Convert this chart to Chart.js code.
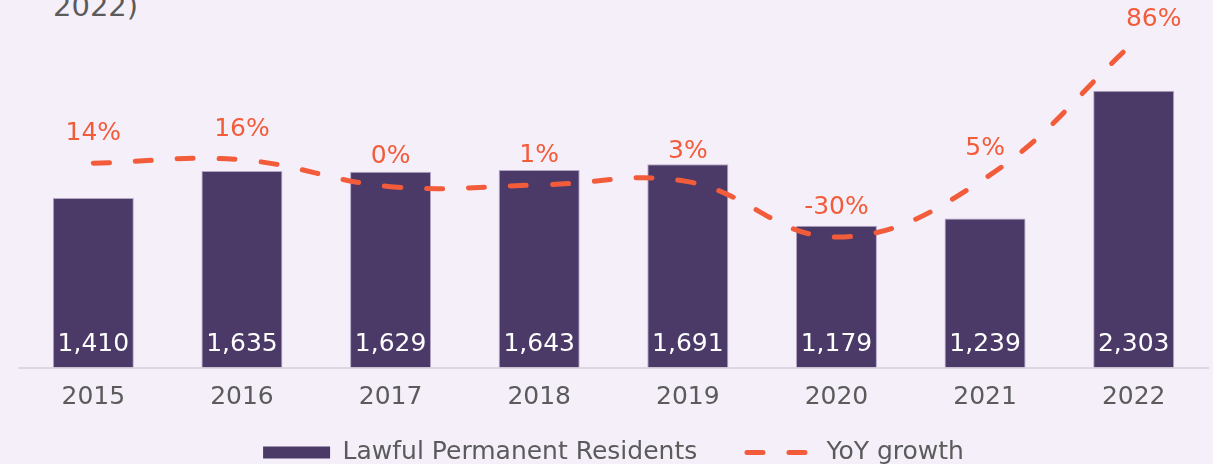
<!DOCTYPE html>
<html>
<head>
<meta charset="utf-8">
<script src="https://cdn.jsdelivr.net/npm/chart.js@4.4.0/dist/chart.umd.min.js"></script>
<style>
  html, body { margin: 0; padding: 0; background: #f5effa; }
  #wrap { position: relative; width: 1213px; height: 464px; overflow: hidden; }
  #titulo { position: absolute; left: 53px; top: -11px; font: 29px 'DejaVu Sans'; line-height: 34px; color: #5b5b5b; white-space: nowrap; }
  #grafico { position: absolute; left: 0; top: 0; }
</style>
</head>
<body>
<div id="wrap">
  <div id="titulo">2022)</div>
  <canvas id="grafico" width="1213" height="464"></canvas>
</div>
<script>
const anos = ['2015', '2016', '2017', '2018', '2019', '2020', '2021', '2022'];
const residentes = [1410, 1635, 1629, 1643, 1691, 1179, 1239, 2303];
const crescimento = [14, 16, 0, 1, 3, -30, 5, 86];

const corBarra = '#4b3a68';
const corLinha = '#f25c3b';
const corTexto = '#5b5b5b';
const fonte = "'DejaVu Sans'";

// rótulos dentro das barras e acima da linha
const rotulos = {
  id: 'rotulos',
  afterDatasetsDraw(chart) {
    const ctx = chart.ctx;
    ctx.save();
    ctx.font = `25px ${fonte}`;
    ctx.textAlign = 'center';
    ctx.textBaseline = 'middle';

    const barras = chart.getDatasetMeta(0).data;
    const base = chart.scales.y.getPixelForValue(0);
    ctx.fillStyle = '#ffffff';
    barras.forEach((bar, i) => {
      ctx.fillText(residentes[i].toLocaleString('en-US'), bar.x, base - 23);
    });

    const pontos = chart.getDatasetMeta(1).data;
    ctx.fillStyle = corLinha;
    pontos.forEach((p, i) => {
      const ultimo = i === pontos.length - 1;
      ctx.fillText(crescimento[i] + '%', p.x + (ultimo ? 20 : 0), p.y - (ultimo ? 23 : 30));
    });
    ctx.restore();
  }
};

const ctx = document.getElementById('grafico').getContext('2d');
new Chart(ctx, {
  type: 'bar',
  data: {
    labels: anos,
    datasets: [{
      type: 'bar',
      label: 'Lawful Permanent Residents     ',
      data: residentes,
      backgroundColor: corBarra,
      borderColor: '#b4a6c8',
      borderWidth: { top: 1, left: 1, right: 1, bottom: 0 },
      barPercentage: 0.545,
      categoryPercentage: 1,
      yAxisID: 'y',
      order: 2
    }, {
      type: 'line',
      label: 'YoY growth',
      data: crescimento,
      borderColor: corLinha,
      backgroundColor: corLinha,
      borderWidth: 5,
      borderDash: [16, 26],
      borderCapStyle: 'round',
      tension: 0.4,
      pointRadius: 0,
      fill: false,
      yAxisID: 'y2',
      order: 1
    }]
  },
  options: {
    responsive: false,
    animation: false,
    layout: {
      padding: { left: 19, right: 5, top: 0, bottom: -11 }
    },
    plugins: {
      tooltip: { enabled: false },
      legend: {
        position: 'bottom',
        labels: {
          usePointStyle: true,
          pointStyleWidth: 67,
          boxHeight: 12,
          padding: 10,
          color: corTexto,
          font: { family: fonte, size: 25 },
          generateLabels(chart) {
            const itens = Chart.defaults.plugins.legend.labels.generateLabels(chart);
            itens.sort((a, b) => a.datasetIndex - b.datasetIndex);
            itens[0].pointStyle = 'rect';
            itens[0].lineWidth = 0;
            itens[1].pointStyle = 'line';
            itens[1].lineWidth = 5;
            itens[1].lineDash = [16, 26];
            itens[1].lineCap = 'round';
            itens[1].strokeStyle = corLinha;
            return itens;
          }
        }
      }
    },
    scales: {
      x: {
        offset: true,
        grid: { display: false, drawTicks: false },
        border: { display: true, color: '#ddd7e1', width: 2 },
        ticks: {
          color: corTexto,
          padding: 15,
          font: { family: fonte, size: 25 }
        },
        afterFit(scale) { scale.height = 62.5; }
      },
      y: {
        display: false,
        min: 0,
        max: 3058
      },
      y2: {
        display: false,
        min: -107.8,
        max: 111.3
      }
    }
  },
  plugins: [rotulos]
});
</script>
</body>
</html>
